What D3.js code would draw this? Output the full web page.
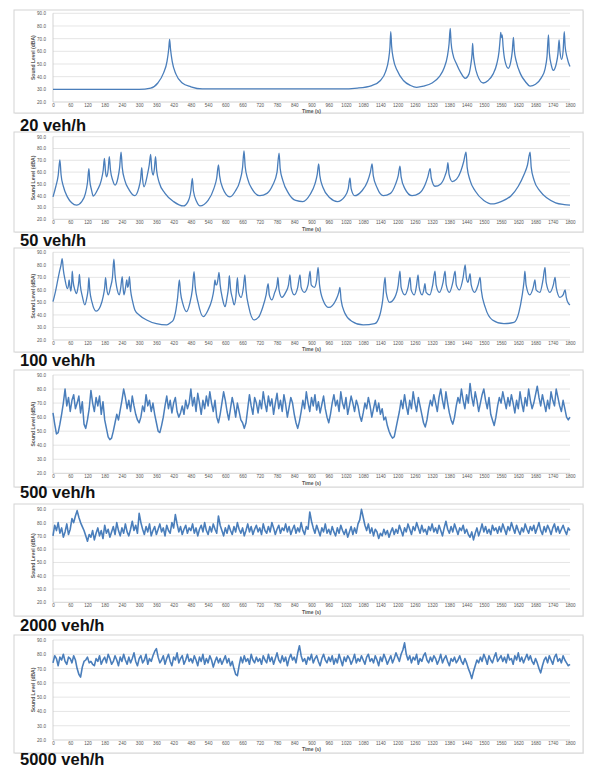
<!DOCTYPE html>
<html><head><meta charset="utf-8">
<script src="https://cdn.jsdelivr.net/npm/d3@7/dist/d3.min.js"></script>
<style>html,body{margin:0;padding:0;background:#fff;}svg{display:block;}</style>
</head><body>
<svg id="c" width="594" height="768"></svg>
<script>
// ---------- DATA ----------
const panelLabels = ["20 veh/h","50 veh/h","100 veh/h","500 veh/h","2000 veh/h","5000 veh/h"];
const yTicks = [20,30,40,50,60,70,80,90];
const xTicks = [0,60,120,180,240,300,360,420,480,540,600,660,720,780,840,900,960,1020,1080,1140,1200,1260,1320,1380,1440,1500,1560,1620,1680,1740,1800];
const xTitle = "Time (s)";
const yTitle = "Sound Level (dBA)";

// sparse traffic: [time s, level dBA]
const s20 = [[0,30],[300,30],[340,31],[365,35],[385,43],[397,52],[403,62],[406,69.5],[409,62],[415,52],[428,42],[450,35],[480,32],[520,30.3],[1000,30.3],[1060,31],[1110,33],[1140,37],[1158,44],[1168,53],[1173,63],[1176,75.5],[1179,64],[1185,54],[1198,45],[1220,37],[1245,33],[1266,31.6],[1290,32.5],[1320,35],[1345,40],[1362,47],[1373,56],[1379,66],[1383,78],[1386,67],[1392,58],[1405,50],[1420,43],[1435,38.7],[1448,42],[1455,50],[1459,58],[1461,66.3],[1463,59],[1468,50],[1478,41],[1498,35],[1515,37],[1532,42],[1545,50],[1553,60],[1557,70],[1559,75],[1561,71],[1564,73],[1567,64],[1573,53],[1585,46.6],[1594,52],[1599,60],[1603,71],[1606,61],[1613,52],[1628,42],[1645,36],[1661,32.6],[1680,34],[1700,39],[1713,46],[1720,56],[1725,73],[1728,59],[1735,49],[1742,45],[1752,50],[1758,58],[1762,69],[1765,60],[1771,53.7],[1776,60],[1780,75.5],[1783,64],[1790,55],[1798,49],[1800,48]];

const s50 = [[0,39],[10,48],[18,57],[24,70.3],[28,58],[36,48],[50,39],[65,34],[82,32],[100,35],[113,42],[120,51],[125,63],[128,53],[134,45],[140,39.7],[155,45],[168,53],[175,62],[179,71.7],[183,60],[187,56],[192,62],[196,73],[200,62],[208,53],[216,49],[226,55],[232,64],[237,77],[241,64],[250,53],[265,45],[285,40],[298,46],[305,54],[309,63.7],[312,54],[317,47.6],[328,57],[335,66],[340,75],[344,62],[349,57.5],[353,63],[357,73],[361,61],[370,51],[390,42],[420,35],[454,31.3],[470,35],[480,44],[485,54.7],[489,44],[500,35],[512,31.3],[540,36],[560,46],[570,55],[576,66],[580,57],[590,47],[616,39],[635,44],[650,52],[660,64],[665,78],[669,65],[678,54],[695,45],[720,40],[745,42],[765,49],[780,60],[787,76],[791,63],[800,53],[820,42],[845,36],[870,35],[895,41],[912,50],[920,58],[925,67],[929,57],[940,47],[965,38],[990,35],[1015,39],[1028,46],[1034,55],[1038,46],[1050,40],[1075,44],[1095,52],[1105,60],[1111,67],[1115,57],[1128,47],[1150,40],[1175,42],[1193,50],[1202,57],[1208,65],[1212,56],[1225,46],[1250,40],[1275,42],[1295,49],[1305,56],[1313,63],[1317,55],[1330,48],[1350,50],[1365,57],[1372,63],[1375,68],[1379,58],[1390,52],[1405,54],[1420,61],[1430,69],[1438,77],[1442,64],[1452,53],[1470,44],[1500,36],[1530,33],[1560,35],[1595,40],[1620,48],[1640,58],[1652,66],[1661,77],[1665,64],[1675,53],[1695,44],[1720,38],[1750,34],[1780,32.5],[1800,32]];

const s100 = [[0,50.6],[8,58],[15,66],[22,74],[28,80],[32,85],[36,76],[42,68],[50,61],[54,64],[56,68],[59,63],[62,59],[65,65],[67,75],[70,67],[76,60],[82,57],[87,62],[90,67],[92,72.4],[95,64],[102,55],[111,48],[118,54],[122,60],[125,69.7],[128,60],[136,50],[150,43],[165,47],[175,55],[180,62],[183,69.7],[187,61],[193,56],[200,62],[207,70],[212,84.6],[216,72],[222,62],[231,56],[236,62],[241,70.5],[244,62],[247,56],[252,61],[257,68],[260,62],[263,64],[266,70.5],[270,60],[277,51],[285,44],[300,40],[326,36],[360,33],[396,32],[410,34],[419,36],[428,44],[434,54],[440,68],[444,58],[452,49],[465,42.6],[476,49],[485,60],[491,74.5],[495,63],[505,50],[523,38.6],[540,44],[553,52],[560,60],[564,68],[567,64],[570,64],[574,68],[578,74],[582,64],[590,53],[599,46.6],[606,54],[611,62],[614,71.3],[618,61],[625,53],[631,48],[637,55],[642,69.7],[646,58],[655,54],[663,62],[668,72],[672,60],[682,46],[700,36],[715,38],[730,46],[742,56],[749,65],[753,56],[762,52],[772,58],[780,64],[783,70],[787,60],[797,54],[810,58],[820,64],[825,72],[829,62],[840,56],[852,62],[860,72],[864,62],[875,58],[888,64],[895,75],[899,64],[910,62],[918,68],[923,78],[928,64],[940,52],[960,46],[985,52],[995,58],[999,62],[1003,52],[1015,42],[1040,35],[1080,32],[1120,33],[1138,40],[1148,52],[1156,70],[1160,58],[1172,50],[1190,54],[1202,64],[1208,75],[1212,62],[1225,56],[1236,62],[1243,70],[1247,60],[1258,56],[1266,64],[1271,72],[1275,62],[1285,56],[1291,60],[1295,65],[1299,58],[1312,56],[1322,64],[1330,75],[1334,64],[1345,58],[1358,66],[1365,75],[1369,64],[1380,58],[1392,66],[1400,75],[1404,64],[1415,60],[1428,70],[1435,80],[1439,70],[1445,66],[1449,70],[1452,73],[1456,64],[1468,58],[1480,64],[1487,70],[1491,60],[1505,46],[1530,36],[1570,33],[1605,34],[1622,42],[1633,55],[1640,67],[1643,75],[1647,64],[1660,56],[1672,62],[1678,68],[1682,60],[1695,58],[1706,68],[1713,78],[1717,66],[1730,58],[1742,64],[1748,70],[1752,62],[1765,54],[1776,56],[1783,60],[1787,54],[1795,49],[1800,48]];

// dense traffic: one reading every 6 s
const s500 = [63,55,48,49,55,62,70,80,68,74,64,72,76,66,70,75,63,71,55,52,
58,66,79,70,64,74,68,75,62,71,58,52,46,44,45,50,56,62,58,65,
72,80,74,66,72,64,75,68,62,58,56,60,68,64,76,68,72,64,70,62,
56,50,49,54,60,68,75,66,72,63,70,74,64,60,63,68,62,72,66,70,
80,68,74,64,77,70,62,72,66,75,68,78,70,64,72,60,56,62,70,78,
72,64,58,66,74,68,60,70,64,58,56,52,56,66,76,68,62,74,70,63,
72,66,78,70,64,75,68,73,62,70,77,66,72,64,76,69,60,67,74,70,
62,56,52,57,64,72,66,78,70,64,74,68,76,65,71,63,69,75,66,60,
56,62,70,76,68,72,64,78,70,66,74,62,68,75,70,64,72,68,61,57,
63,70,66,74,68,60,66,72,64,70,62,66,58,60,54,50,47,45,46,52,
58,64,72,66,76,68,62,72,66,78,70,64,74,68,62,56,53,58,66,72,
68,76,70,64,74,80,72,66,78,70,63,58,55,60,68,74,70,80,72,66,
76,70,84,74,68,78,72,64,70,76,80,72,66,74,62,58,54,60,68,74,
70,78,72,66,74,68,76,70,63,72,66,78,70,64,74,68,80,72,66,70,
76,82,74,68,76,70,64,72,66,78,72,68,80,74,68,64,72,66,60,58,
60];

const s2000 = [70,78,74,80,72,76,69,73,79,71,75,83,80,85,89,84,80,77,74,70,
66,71,69,74,67,72,76,70,74,68,78,72,75,69,73,77,71,80,74,70,
76,72,79,73,70,75,81,74,78,72,87,80,75,71,77,73,79,70,74,77,
71,75,79,73,76,70,78,74,72,80,76,86,79,73,77,71,75,78,72,76,
74,79,72,76,70,75,78,73,80,74,71,77,73,79,75,72,85,78,74,70,
76,72,78,74,71,77,73,80,75,72,76,70,74,79,73,77,71,75,78,73,
76,71,79,74,72,77,73,80,76,71,75,78,72,76,74,79,73,77,71,75,
78,72,76,73,80,74,71,77,75,88,81,76,72,78,74,70,76,73,79,72,
75,71,77,73,70,76,72,78,74,71,75,69,73,77,71,76,72,79,82,90,
84,78,74,79,72,76,70,75,73,68,72,70,75,71,74,69,73,76,71,75,
72,78,74,70,76,73,79,75,71,77,74,80,76,72,78,73,75,71,77,74,
79,73,76,72,78,74,70,76,81,75,72,77,73,79,75,71,76,74,78,72,
75,71,69,73,67,72,76,70,74,79,73,77,72,75,71,78,74,76,72,77,
73,79,75,71,77,74,80,76,72,78,74,71,76,73,79,75,72,77,74,78,
72,76,80,74,71,77,73,78,75,71,76,79,73,77,72,75,78,74,71,76,
74];

const s5000 = [74,79,77,72,78,76,80,75,73,78,77,74,79,76,70,66,64,71,75,76,
78,74,75,73,72,77,75,79,73,76,78,74,80,77,73,75,79,76,72,78,
75,80,76,73,78,74,77,81,75,72,77,79,74,76,80,73,77,75,79,82,
84,78,74,76,79,73,77,80,75,72,78,76,81,74,77,79,73,76,80,75,
77,74,79,76,72,78,75,80,73,77,74,79,76,71,75,78,74,77,73,76,
79,74,77,72,75,70,66,65,72,78,74,79,75,77,73,80,76,74,78,75,
77,73,79,76,74,80,75,78,73,77,81,76,74,79,75,78,72,77,80,76,
78,74,81,86,79,75,77,73,78,76,80,74,77,79,75,72,77,80,76,74,
78,75,79,73,77,74,80,76,72,78,75,79,77,73,76,80,74,77,75,79,
76,73,78,80,75,77,74,79,76,72,78,75,80,77,73,76,79,74,77,81,
78,75,80,83,88,80,76,79,74,78,76,80,73,77,75,79,81,76,74,78,
75,79,77,73,76,80,74,77,79,75,72,77,75,78,74,76,79,75,73,77,
74,70,67,63,68,72,76,74,78,75,80,77,73,79,76,74,78,81,75,77,
79,75,78,74,80,76,77,73,79,76,81,75,78,74,77,80,76,79,75,73,
77,74,70,67,72,76,78,74,79,76,73,78,80,75,77,74,79,76,74,72,
73];
const denseStep = 6;

// ---------- LAYOUT ----------
const layout = [
  {box:[14,10,583,113], top:13.3, bot:102,   tick:106.5, title:111.5, label:130.5},
  {box:[14,132,583,232], top:136.7, bot:219.3, tick:224,  title:229,  label:245.5},
  {box:[14,248,583,352], top:252.3, bot:340,   tick:344.5, title:349.5, label:365.5},
  {box:[14,370,583,487], top:375,   bot:473.3, tick:478,  title:483,  label:497.5},
  {box:[14,504,583,616], top:509.3, bot:602.3, tick:607,  title:612,  label:630.5},
  {box:[14,635,583,753], top:640,   bot:740,   tick:744.5, title:749.5, label:764.5}
];
const xLeft = 53, xRight = 570;
const lineColor = "#4a7ebb";

const toPairs = arr => arr.map((v,i)=>[i*denseStep, v]);
const series = [
  {d:s20, curve:d3.curveMonotoneX, w:1.3},
  {d:s50, curve:d3.curveMonotoneX, w:1.3},
  {d:s100, curve:d3.curveMonotoneX, w:1.3},
  {d:toPairs(s500), curve:d3.curveLinear, w:1.5},
  {d:toPairs(s2000), curve:d3.curveLinear, w:1.6},
  {d:toPairs(s5000), curve:d3.curveLinear, w:1.6}
];

const svg = d3.select("#c");
const x = d3.scaleLinear().domain([0,1800]).range([xLeft,xRight]);
const fmt = d3.format(".1f");

layout.forEach((L,i)=>{
  const g = svg.append("g");
  const [bx0,by0,bx1,by1] = L.box;
  g.append("rect").attr("x",bx0+1).attr("y",by0+1).attr("width",bx1-bx0).attr("height",by1-by0)
    .attr("fill","#eeeeee");
  g.append("rect").attr("x",bx0).attr("y",by0).attr("width",bx1-bx0).attr("height",by1-by0)
    .attr("fill","#fff").attr("stroke","#d4d4d4").attr("stroke-width",1);
  const y = d3.scaleLinear().domain([20,90]).range([L.bot,L.top]);

  g.append("g").selectAll("line").data(yTicks).join("line")
    .attr("x1",xLeft).attr("x2",xRight)
    .attr("y1",d=>y(d)).attr("y2",d=>y(d))
    .attr("stroke",d=>d===20?"#c8c8c8":"#dedede").attr("stroke-width",0.8);
  g.append("line").attr("x1",xLeft).attr("x2",xLeft).attr("y1",L.top).attr("y2",L.bot)
    .attr("stroke","#c8c8c8").attr("stroke-width",0.8);

  const ya = d3.axisLeft(y).tickValues(yTicks).tickFormat(fmt).tickSize(0).tickPadding(0);
  const yg = g.append("g").attr("transform",`translate(${xLeft-7},0)`).call(ya);
  yg.select(".domain").remove();
  yg.selectAll("text").attr("font-size",4.6).attr("fill","#555").attr("font-family","Liberation Sans, Arial, sans-serif");

  const xa = d3.axisBottom(x).tickValues(xTicks).tickFormat(d3.format("d")).tickSize(0).tickPadding(0);
  const xg = g.append("g").attr("transform",`translate(0,${L.tick-3})`).call(xa);
  xg.select(".domain").remove();
  xg.selectAll("text").attr("font-size",4.6).attr("fill","#555").attr("font-family","Liberation Sans, Arial, sans-serif");

  g.append("text").attr("x",(xLeft+xRight)/2).attr("y",L.title+1.5).attr("text-anchor","middle")
    .attr("font-size",5).attr("font-weight","bold").attr("fill","#555")
    .attr("font-family","Liberation Sans, Arial, sans-serif").text(xTitle);
  g.append("text").attr("transform",`translate(34.5,${(L.top+L.bot)/2}) rotate(-90)`)
    .attr("text-anchor","middle").attr("font-size",5).attr("font-weight","bold").attr("fill","#555")
    .attr("font-family","Liberation Sans, Arial, sans-serif").text(yTitle);

  const S = series[i];
  const line = d3.line().x(d=>x(d[0])).y(d=>y(d[1])).curve(S.curve);
  g.append("path").datum(S.d).attr("d",line).attr("fill","none")
    .attr("stroke",lineColor).attr("stroke-width",S.w).attr("stroke-linejoin","round");

  svg.append("text").attr("x",20).attr("y",L.label).attr("font-size",16.5).attr("font-weight","bold")
    .attr("fill","#111").attr("font-family","Liberation Sans, Arial, sans-serif").text(panelLabels[i]);
});
</script>
</body></html>
